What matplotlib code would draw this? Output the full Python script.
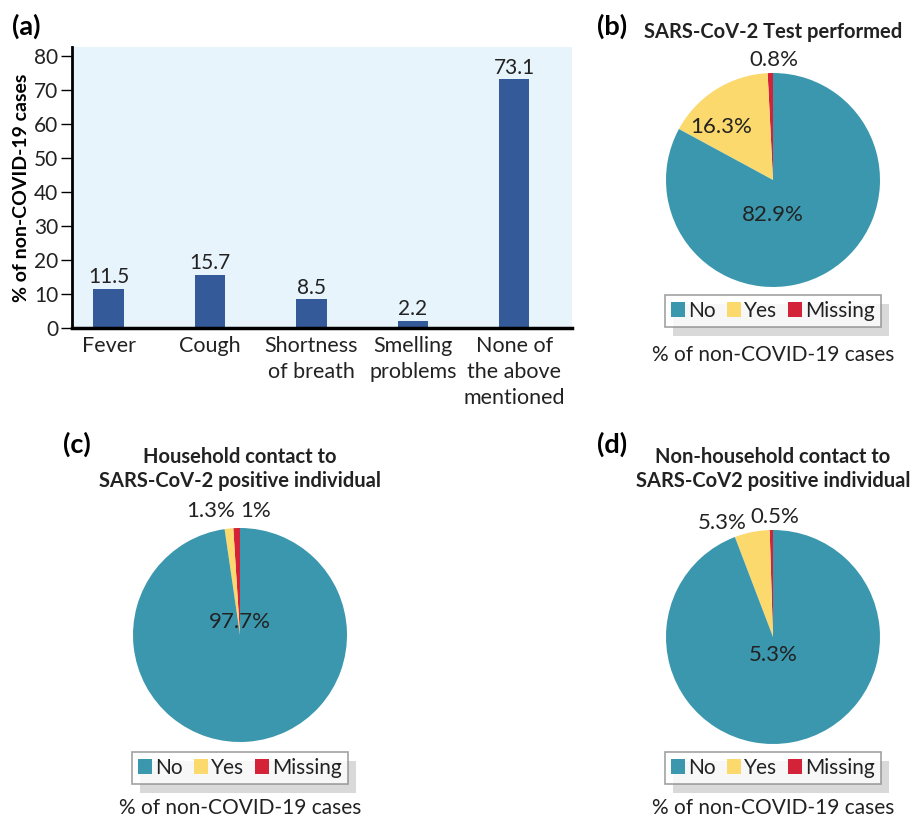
import matplotlib
matplotlib.use("Agg")
import matplotlib.pyplot as plt
from matplotlib.patches import Patch, Rectangle

plt.rcParams['font.family'] = ['Lato', 'DejaVu Sans']

# symptom bar data
symptoms = ["Fever", "Cough", "Shortness\nof breath", "Smelling\nproblems", "None of\nthe above\nmentioned"]
symptom_pct = [11.5, 15.7, 8.5, 2.2, 73.1]

# pie data, order: Missing, Yes, No (drawn counterclockwise from the top)
pie_cats = ["Missing", "Yes", "No"]
test_pct = [0.8, 16.3, 82.9]
household_pct = [1.0, 1.3, 97.7]
nonhousehold_pct = [0.5, 5.3, 94.2]
nonhousehold_labels = ["0.5%", "5.3%", "5.3%"]

pie_colors = {"No": "#3a97ae", "Yes": "#fcd96d", "Missing": "#d42338"}
bar_color = "#355a9a"
txt_color = "#222222"

W, H = 917, 821
fig = plt.figure(figsize=(W / 100, H / 100), dpi=100)


def px(x0, y0, x1, y1):
    return [x0 / W, 1 - y1 / H, (x1 - x0) / W, (y1 - y0) / H]


# (a) bar chart
ax = fig.add_axes(px(72, 47, 572, 328))
ax.set_facecolor("#e8f4fc")
xs = range(len(symptoms))
ax.bar(xs, symptom_pct, width=0.3, color=bar_color, zorder=2)
for x, v in zip(xs, symptom_pct):
    ax.annotate(f"{v}", (x, v), xytext=(0, 1), textcoords="offset points",
                ha="center", va="bottom", fontsize=15, color=txt_color)
ax.set_xlim(-0.36, 4.57)
ax.set_ylim(0, 82.6)
ax.set_yticks(range(0, 81, 10))
ax.set_xticks(list(xs))
ax.set_xticklabels(symptoms, fontsize=15.5, va="top", linespacing=1.35, color=txt_color)
ax.tick_params(axis="x", length=0, pad=6)
ax.tick_params(axis="y", length=8, width=1, labelsize=15, pad=2, labelcolor=txt_color)
for s in ["top", "right"]:
    ax.spines[s].set_visible(False)
ax.spines["left"].set_linewidth(2)
ax.spines["bottom"].set_linewidth(2.5)
ax.set_ylabel("% of non-COVID-19 cases", fontsize=14, fontweight="bold", labelpad=3)
fig.text(12 / W, 1 - 26 / H, "(a)", fontsize=19.5, fontweight="bold", va="center")


def pie_panel(box, values, labels, label_xy, title, title_y, tag, tag_xy, legend_y, note_y, cx):
    pax = fig.add_axes(px(*box))
    pax.pie(values, colors=[pie_colors[c] for c in pie_cats], startangle=90,
            counterclock=True, radius=1, wedgeprops=dict(linewidth=0))
    pax.set_xlim(-1, 1)
    pax.set_ylim(-1, 1)
    for txt, (tx, ty) in zip(labels, label_xy):
        pax.text(tx, ty, txt, ha="center", va="center", fontsize=16, color=txt_color,
                 clip_on=False)
    fig.text(cx / W, 1 - title_y / H, title, ha="center", va="center", fontsize=14.5,
             fontweight="bold", linespacing=1.3, color=txt_color)
    fig.text(tag_xy[0] / W, 1 - tag_xy[1] / H, tag, fontsize=19.5, fontweight="bold", va="center")
    handles = [Patch(facecolor=pie_colors[c], edgecolor="none") for c in ["No", "Yes", "Missing"]]
    leg = fig.legend(handles, ["No", "Yes", "Missing"], ncol=3, loc="center",
                     bbox_to_anchor=(cx / W, 1 - legend_y / H), fontsize=15,
                     frameon=True, fancybox=False, edgecolor="#8a8a8a",
                     handlelength=0.7, handleheight=0.7, handletextpad=0.15,
                     columnspacing=0.5, borderpad=0.3, borderaxespad=0)
    leg.get_frame().set_linewidth(1.2)
    for t in leg.get_texts():
        t.set_color(txt_color)
    fig.text(cx / W, 1 - note_y / H, "% of non-COVID-19 cases", ha="center", va="center",
             fontsize=15, color=txt_color)
    return leg


legends = []
legends.append(pie_panel((666, 73, 880, 287), test_pct, ["0.8%", "16.3%", "82.9%"],
                         [(0.01, 1.12), (-0.48, 0.5), (0.0, -0.33)],
                         "SARS-CoV-2 Test performed", 32, "(b)", (597, 26), 311, 355, 773))
legends.append(pie_panel((133, 528, 347, 742), household_pct, ["1%", "1.3%", "97.7%"],
                         [(0.15, 1.16), (-0.27, 1.16), (0.0, 0.12)],
                         "Household contact to\nSARS-CoV-2 positive individual", 469, "(c)",
                         (63, 444), 768, 808, 240))
legends.append(pie_panel((666, 530, 880, 744), nonhousehold_pct, nonhousehold_labels,
                         [(0.02, 1.12), (-0.47, 1.07), (0.0, -0.17)],
                         "Non-household contact to\nSARS-CoV2 positive individual", 469, "(d)",
                         (597, 444), 768, 808, 773))

# offset grey shadow behind each legend box
fig.canvas.draw()
for leg in legends:
    bb = leg.get_window_extent()
    sh = Rectangle(((bb.x0 + 8) / W, (bb.y0 - 9) / H), bb.width / W, bb.height / H,
                   transform=fig.transFigure, facecolor="#d9d9d9", edgecolor="none",
                   zorder=leg.get_zorder() - 1)
    fig.add_artist(sh)

fig.savefig("out.png", dpi=100, facecolor="white")
